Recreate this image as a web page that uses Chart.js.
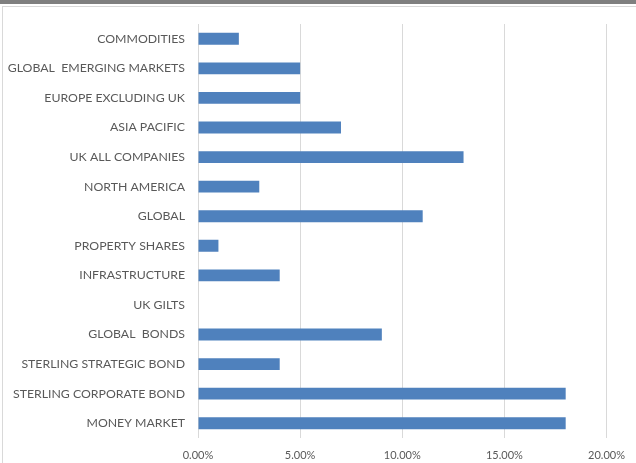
<!DOCTYPE html>
<html>
<head>
<meta charset="utf-8">
<script src="https://cdn.jsdelivr.net/npm/chart.js@4"></script>
<style>
  html, body { margin: 0; padding: 0; background: #ffffff; }
  #wrap { position: relative; width: 636px; height: 463px; overflow: hidden; }
  #topband { position: absolute; left: 0; top: 0; width: 636px; height: 4px; background: #7f7f7f; }
  #frame { position: absolute; left: 2px; top: 6px; width: 640px; height: 470px; border-left: 1px solid #d9d9d9; border-top: 1px solid #d9d9d9; }
  canvas { position: absolute; left: 0; top: 0; }
</style>
</head>
<body>
<div id="wrap">
  <div id="topband"></div>
  <div id="frame"></div>
  <canvas id="c" width="636" height="463"></canvas>
</div>
<script>
const categories = [
  "COMMODITIES",
  "GLOBAL  EMERGING MARKETS",
  "EUROPE EXCLUDING UK",
  "ASIA PACIFIC",
  "UK ALL COMPANIES",
  "NORTH AMERICA",
  "GLOBAL",
  "PROPERTY SHARES",
  "INFRASTRUCTURE",
  "UK GILTS",
  "GLOBAL  BONDS",
  "STERLING STRATEGIC BOND",
  "STERLING CORPORATE BOND",
  "MONEY MARKET"
];
const values = [2, 5, 5, 7, 13, 3, 11, 1, 4, 0, 9, 4, 18, 18];
const axisMin = 0;
const axisMax = 20;
const axisStep = 5;

const fontFamily = "Lato, 'Open Sans', sans-serif";

new Chart(document.getElementById('c'), {
  type: 'bar',
  data: {
    labels: categories,
    datasets: [{
      data: values,
      backgroundColor: '#4f81bd',
      borderWidth: 0,
      barPercentage: 0.4,
      categoryPercentage: 1.0
    }]
  },
  options: {
    indexAxis: 'y',
    responsive: false,
    animation: false,
    devicePixelRatio: 1,
    layout: { padding: { top: 24, left: 0, right: 28, bottom: 0 } },
    plugins: { legend: { display: false }, tooltip: { enabled: false } },
    scales: {
      x: {
        min: axisMin,
        max: axisMax,
        ticks: {
          stepSize: axisStep,
          color: '#595959',
          font: { family: fontFamily, size: 11 },
          padding: 11,
          callback: (v) => Number(v).toFixed(2) + '%'
        },
        grid: { color: '#d9d9d9', lineWidth: 1, drawTicks: false },
        border: { display: false },
        afterFit: (s) => { s.height = 25; }
      },
      y: {
        ticks: {
          color: '#595959',
          font: { family: fontFamily, size: 12.3 },
          padding: 13,
          autoSkip: false
        },
        grid: { display: false, drawTicks: false },
        border: { display: false },
        afterFit: (s) => { s.width = 198; }
      }
    }
  }
});
</script>
</body>
</html>
